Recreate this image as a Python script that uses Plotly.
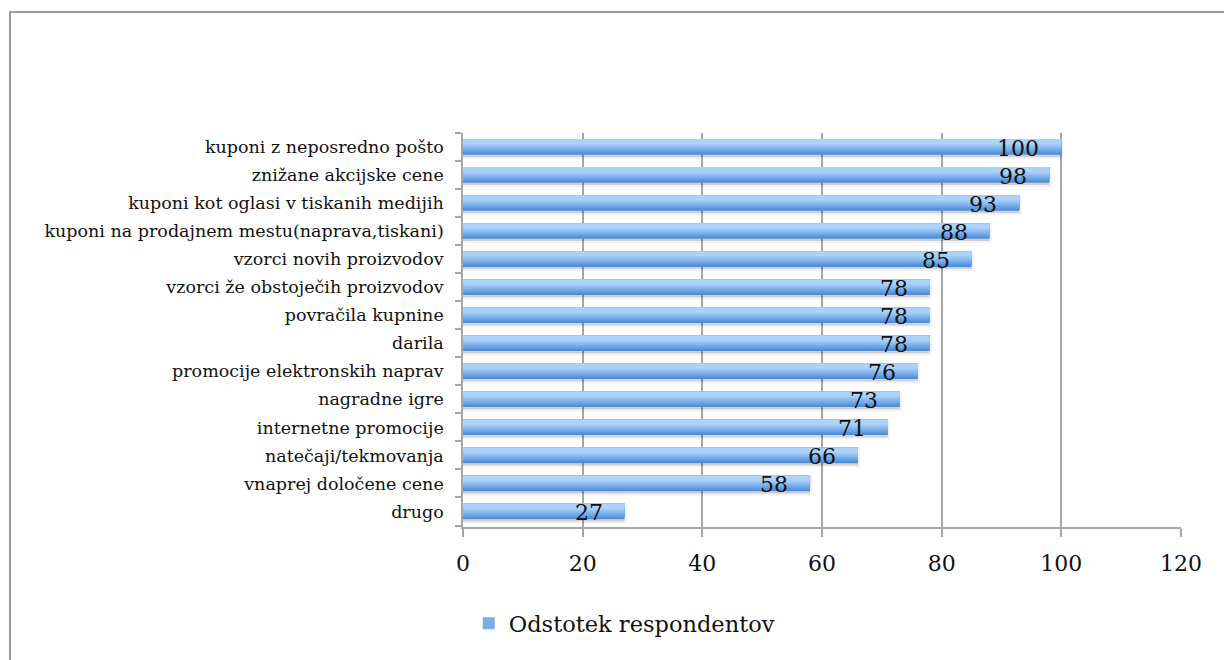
import plotly.graph_objects as go

# Survey results: share of respondents per promotion type (top to bottom)
categories = [
    "kuponi z neposredno pošto",
    "znižane akcijske cene",
    "kuponi kot oglasi v tiskanih medijih",
    "kuponi na prodajnem mestu(naprava,tiskani)",
    "vzorci novih proizvodov",
    "vzorci že obstoječih proizvodov",
    "povračila kupnine",
    "darila",
    "promocije elektronskih naprav",
    "nagradne igre",
    "internetne promocije",
    "natečaji/tekmovanja",
    "vnaprej določene cene",
    "drugo",
]
values = [100, 98, 93, 88, 85, 78, 78, 78, 76, 73, 71, 66, 58, 27]
x_ticks = [0, 20, 40, 60, 80, 100, 120]
series_name = "Odstotek respondentov"

# plot bottom-up so the first category ends up on top
cats = categories[::-1]
vals = values[::-1]

FONT = "DejaVu Serif"
BAR_W = 0.55
GRID = "#a6a6a6"

fig = go.Figure()

# soft drop shadow under each bar
fig.add_trace(go.Bar(
    y=cats, x=vals, orientation="h",
    width=BAR_W, offset=-BAR_W / 2 - 0.08,
    marker=dict(color="rgba(0,0,0,0.13)", line=dict(color="rgba(0,0,0,0.06)", width=4)),
    showlegend=False, hoverinfo="skip",
))

# vertical gradient: darker at the bottom edge, lighter toward the top
grad = [
    (79, 139, 214), (92, 151, 222), (106, 162, 228), (120, 173, 233),
    (134, 184, 238), (148, 194, 242), (162, 204, 245), (172, 210, 247),
]
n = len(grad)
for k, (r, g, b) in enumerate(grad):
    start = -BAR_W / 2 + k * BAR_W / (n + 2)
    fig.add_trace(go.Bar(
        y=cats, x=vals, orientation="h",
        width=BAR_W / 2 - start, offset=start,
        marker=dict(color=f"rgb({r},{g},{b})", line=dict(width=0)),
        name=series_name, showlegend=(k == 3), hoverinfo="skip",
    ))

# value labels right-aligned a little inside the bar end
annotations = [
    dict(
        x=v, y=c, xref="x", yref="y", text=str(v), showarrow=False,
        xanchor="right", yanchor="middle", xshift=-20, yshift=-1,
        font=dict(family=FONT, size=22, color="#111111"),
    )
    for c, v in zip(cats, vals)
]

fig.update_layout(
    width=1224, height=660,
    margin=dict(l=463, r=43, t=133, b=133),
    paper_bgcolor="white", plot_bgcolor="white",
    barmode="overlay",
    font=dict(family=FONT, color="#111111"),
    xaxis=dict(
        range=[0, 120], tickvals=x_ticks,
        showgrid=True, gridcolor=GRID, gridwidth=1.5,
        showline=True, linecolor=GRID, linewidth=1.5,
        ticks="outside", ticklen=8, tickcolor=GRID, tickwidth=1.5,
        tickfont=dict(family=FONT, size=22, color="#111111"),
        ticklabelstandoff=8,
        zeroline=False, fixedrange=True,
    ),
    yaxis=dict(
        type="category",
        categoryorder="array", categoryarray=cats,
        showline=True, linecolor=GRID, linewidth=1.5,
        ticks="outside", tickson="boundaries", ticklen=6, tickcolor=GRID, tickwidth=1.5,
        tickfont=dict(family=FONT, size=17.5, color="#111111"),
        ticklabelstandoff=14,
        showgrid=False, fixedrange=True,
    ),
    legend=dict(
        orientation="h", x=0.008, xanchor="left", y=-0.245, yanchor="middle",
        font=dict(family=FONT, size=22.5, color="#111111"),
        itemwidth=30,
    ),
    annotations=annotations,
    shapes=[dict(
        type="rect", xref="paper", yref="paper",
        x0=-453 / 718, x1=1.2, y0=-0.5, y1=1 + 121 / 394,
        line=dict(color="#9a9a9a", width=2), fillcolor="rgba(0,0,0,0)", layer="below",
    )],
)

fig.write_html("out.html")
